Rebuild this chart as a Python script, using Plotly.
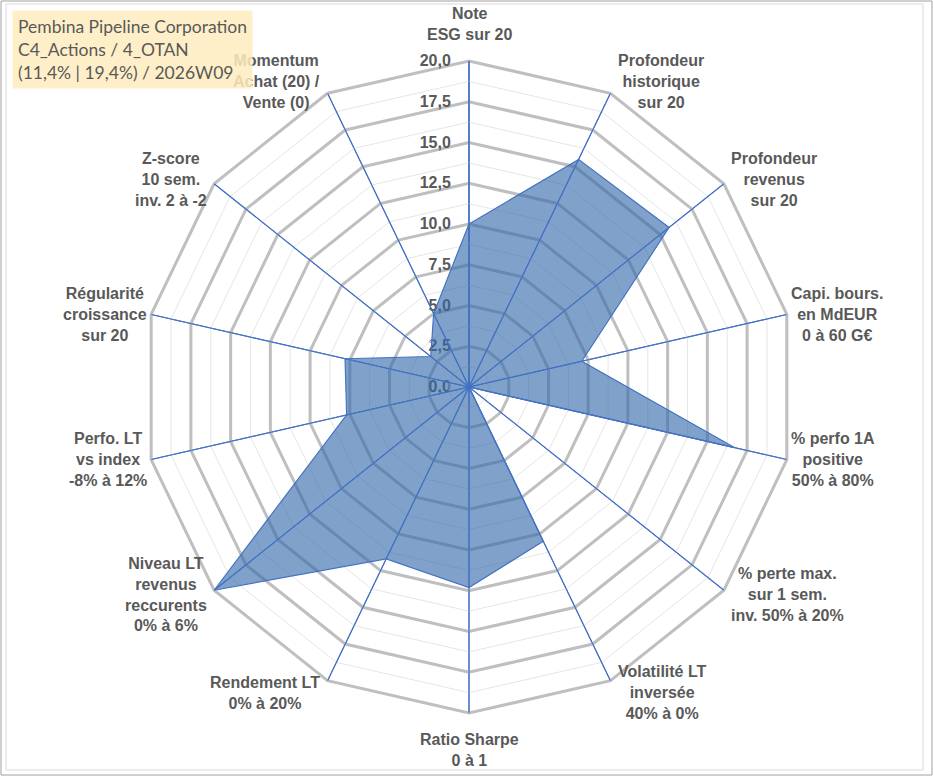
import math
import plotly.graph_objects as go

# critères du radar (sens horaire depuis le haut)
categories = [
    "Note<br>ESG sur 20",
    "Profondeur<br>historique<br>sur 20",
    "Profondeur<br>revenus<br>sur 20",
    "Capi. bours.<br>en MdEUR<br>0 à 60 G€",
    "% perfo 1A<br>positive<br>50% à 80%",
    "% perte max.<br>sur 1 sem.<br>inv. 50% à 20%",
    "Volatilité LT<br>inversée<br>40% à 0%",
    "Ratio Sharpe<br>0 à 1",
    "Rendement LT<br>0% à 20%",
    "Niveau LT<br>revenus<br>reccurents<br>0% à 6%",
    "Perfo. LT<br>vs index<br>-8% à 12%",
    "Régularité<br>croissance<br>sur 20",
    "Z-score<br>10 sem.<br>inv. 2 à -2",
    "Momentum<br>Achat (20) /<br>Vente (0)",
]
scores = [10.0, 15.5, 15.7, 7.1, 16.7, 0.0, 10.5, 12.3, 11.7, 20.0, 7.7, 7.8, 3.0, 5.0]

major_ticks = [0, 2.5, 5, 7.5, 10, 12.5, 15, 17.5, 20]
minor_rings = [1.25, 3.75, 6.25, 8.75, 11.25, 13.75, 16.25, 18.75]

title_lines = ["Pembina Pipeline Corporation", "C4_Actions / 4_OTAN", "(11,4% | 19,4%) / 2026W09"]

W, H = 933, 776
cx, cy, R = 469, 387, 326
rmax = major_ticks[-1]

fig = go.Figure()

closed = categories + [categories[0]]
# lignes secondaires du quadrillage
for v in minor_rings:
    fig.add_trace(go.Scatterpolar(
        r=[v] * len(closed), theta=closed, mode="lines",
        line=dict(color="#E6E6E6", width=1), hoverinfo="skip", showlegend=False))

fig.add_trace(go.Scatterpolar(
    r=scores + [scores[0]], theta=closed, mode="lines",
    fill="toself", fillcolor="rgba(50,105,170,0.62)",
    line=dict(color="#4472C4", width=1.2), showlegend=False))

# rayons bleus par-dessus la surface
spoke_r, spoke_t = [], []
for cat in categories:
    spoke_r += [0, rmax, None]
    spoke_t += [cat, cat, None]
fig.add_trace(go.Scatterpolar(
    r=spoke_r, theta=spoke_t, mode="lines", connectgaps=False,
    line=dict(color="#4472C4", width=1.2), hoverinfo="skip", showlegend=False))

# étiquettes des axes, centrées comme dans Excel
annotations = []
n = len(categories)
for i, label in enumerate(categories):
    a = 2 * math.pi * i / n
    s, c = math.sin(a), math.cos(a)
    rl = R + 1 + 15 * c * c
    px = cx + rl * s
    py = cy - rl * c
    if abs(s) < 0.1:
        xa = "center"
        ya = "bottom" if c > 0 else "top"
    else:
        xa = "left" if s > 0 else "right"
        ya = "middle"
    annotations.append(dict(
        text=label, x=px / W, y=1 - py / H, xref="paper", yref="paper",
        xanchor=xa, yanchor=ya, align="center", showarrow=False,
        font=dict(size=16, color="#595959", weight="bold"),
    ))

annotations.append(dict(
    text="<br>".join(title_lines), xref="paper", yref="paper",
    x=12 / W, y=1 - 10 / H, xanchor="left", yanchor="top", align="left",
    showarrow=False, bgcolor="rgba(255,236,190,0.85)", borderpad=5,
    font=dict(family="Lato, Liberation Sans", size=17.5, color="#595959"),
))

fig.update_layout(
    width=W, height=H,
    margin=dict(l=0, r=0, t=0, b=0),
    paper_bgcolor="white",
    separators=", ",
    font=dict(family="Liberation Sans, Arial", color="#595959"),
    polar=dict(
        domain=dict(x=[(cx - R) / W, (cx + R) / W],
                    y=[(H - cy - R) / H, (H - cy + R) / H]),
        bgcolor="white",
        gridshape="linear",
        radialaxis=dict(
            range=[0, rmax], tickvals=major_ticks, tickformat=".1f",
            angle=90, tickangle=90, side="counterclockwise",
            showline=True, linecolor="#4472C4", linewidth=1.2,
            gridcolor="#BFBFBF", gridwidth=3,
            ticks="outside", ticklen=12, tickcolor="rgba(0,0,0,0)",
            tickfont=dict(size=16, color="#595959", weight="bold"),
            layer="below traces",
        ),
        angularaxis=dict(
            rotation=90, direction="clockwise",
            showline=True, linecolor="#BFBFBF", linewidth=3,
            gridcolor="#4472C4", gridwidth=1.2, ticks="",
            showticklabels=False,
            layer="below traces",
        ),
    ),
    shapes=[
        dict(type="rect", xref="paper", yref="paper",
             x0=1 / W, x1=932 / W, y0=1 / H, y1=775 / H,
             line=dict(color="#A0A0A0", width=1)),
        dict(type="rect", xref="paper", yref="paper",
             x0=6 / W, x1=923 / W, y0=6 / H, y1=772 / H,
             line=dict(color="#D9D9D9", width=1)),
    ],
    annotations=annotations,
)

fig.write_html("out.html", config={"displayModeBar": False},
               post_script="document.body.style.margin='0';")
